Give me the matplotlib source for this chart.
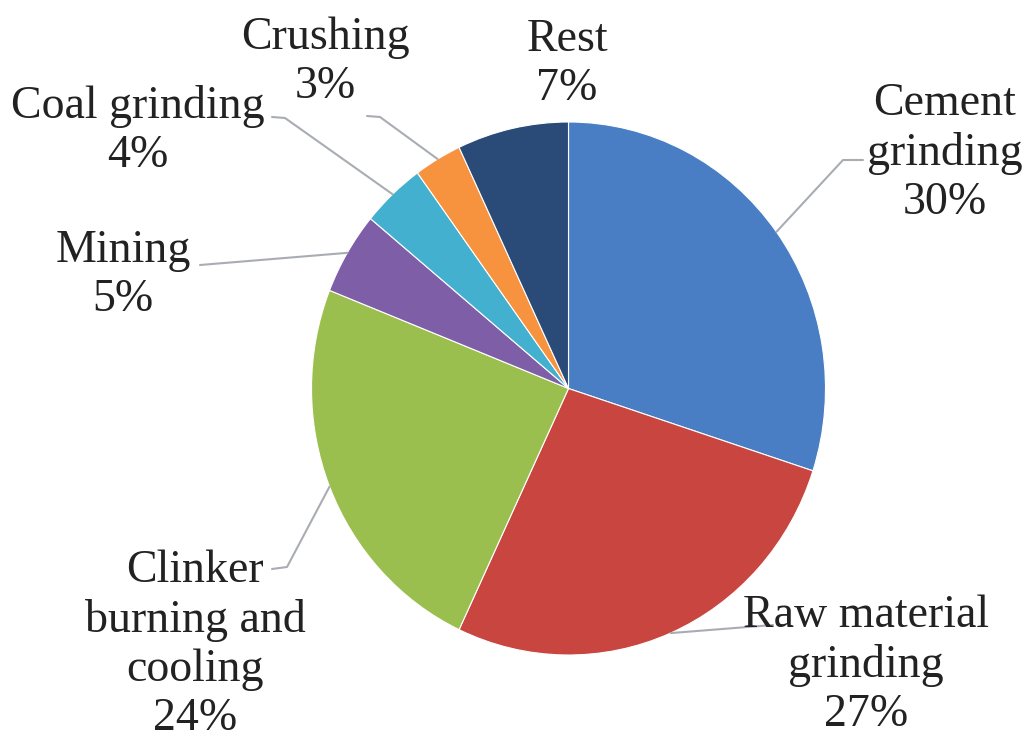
import numpy as np
import matplotlib.pyplot as plt

# Shares of electrical energy use, clockwise from 12 o'clock
labels = ["Cement\ngrinding", "Raw material\ngrinding", "Clinker\nburning and\ncooling",
          "Mining", "Coal grinding", "Crushing", "Rest"]
shares = [30, 27, 24, 5, 4, 3, 7]
colors = ["#4a7ec4", "#c8463f", "#9bbf4f", "#7f5ea8", "#43b0cf", "#f7923e", "#2a4b78"]

W, H = 1033, 746
# pie centre and radii in pixels (the original is slightly stretched vertically)
CX, CY, RX, RY = 568.5, 388.5, 257, 266.5

fig = plt.figure(figsize=(W / 100, H / 100), dpi=100)
ax = fig.add_axes([(CX - RX) / W, (H - CY - RY) / H, 2 * RX / W, 2 * RY / H])
wedges, _ = ax.pie(shares, colors=colors, startangle=90, counterclock=False,
                   wedgeprops=dict(edgecolor="white", linewidth=0.8))
ax.set_aspect("auto")
ax.set_xlim(-1, 1)
ax.set_ylim(-1, 1)
ax.axis("off")


def to_data(x, y):
    # pixel position -> pie data coords
    return (x - CX) / RX, (CY - y) / RY


# label centres and leader elbows, in pixels
label_pos = [(945, 153), (866, 665), (195, 645), (123, 275), (138, 131), (325, 62), (567, 64)]
elbows = [[(843, 160), (863, 160)], [(773, 625)], [(287, 567), (272, 569)], [(200, 265)],
          [(285, 118), (272, 117)], [(380, 117), (367, 116)], []]

for w, lab, s, pos, pts in zip(wedges, labels, shares, label_pos, elbows):
    ang = np.deg2rad((w.theta1 + w.theta2) / 2)
    tx, ty = to_data(*pos)
    ax.text(tx, ty, f"{lab}\n{s}%", ha="center", va="center", fontsize=33,
            family="Liberation Serif", color="#222222", linespacing=1.2)
    if pts:
        xs = [np.cos(ang)] + [to_data(*p)[0] for p in pts]
        ys = [np.sin(ang)] + [to_data(*p)[1] for p in pts]
        ax.plot(xs, ys, color="#a9adb3", lw=1.5, clip_on=False, solid_capstyle="round")

fig.savefig("out.png", dpi=100)
